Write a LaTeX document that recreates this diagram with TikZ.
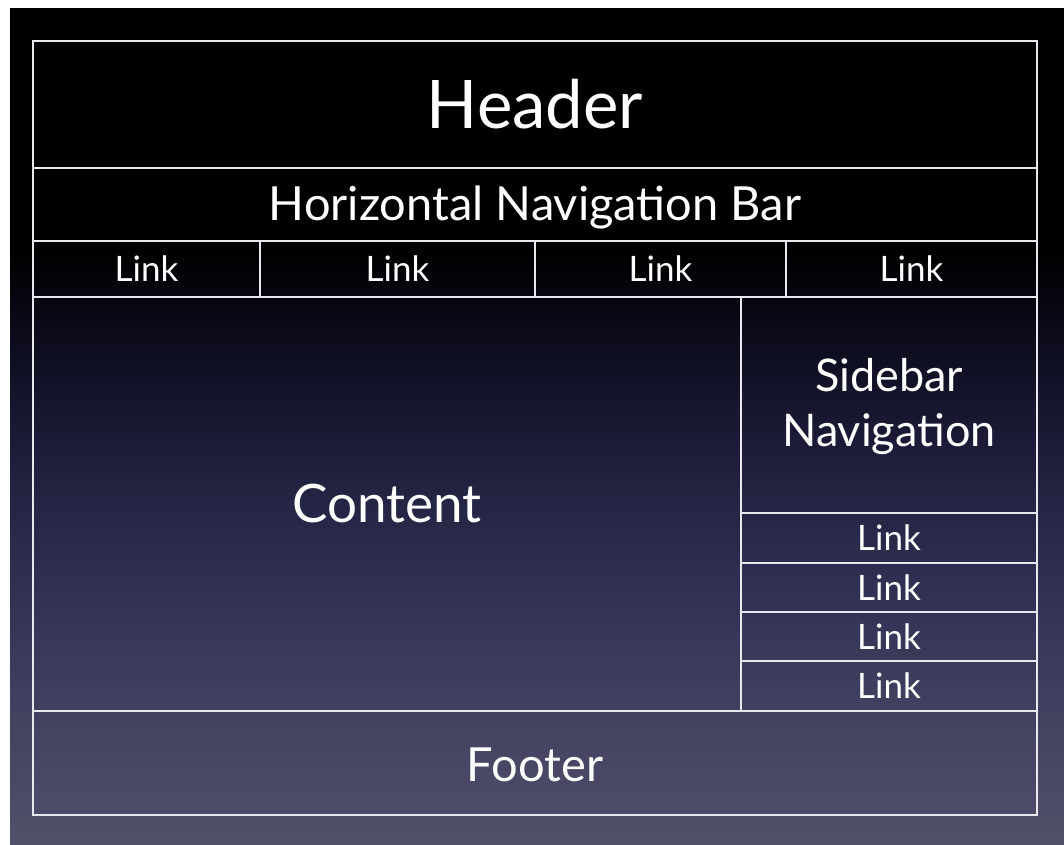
\documentclass[tikz,border=0pt]{standalone}
\usepackage{fontspec}
\setmainfont{Lato}
\usepackage{tikz}

\definecolor{slbot}{RGB}{80,80,106}
\definecolor{sllow}{RGB}{70,70,100}
\definecolor{slmid}{RGB}{50,50,85}
\definecolor{slup}{RGB}{30,30,60}
\definecolor{sltop}{RGB}{12,12,30}
\definecolor{frame}{RGB}{232,232,238}
\pgfdeclareverticalshading{slidebg}{100bp}{color(0bp)=(slbot); color(25bp)=(slbot); color(30.6bp)=(sllow); color(39.6bp)=(slmid); color(48bp)=(slup); color(55bp)=(sltop); color(60.5bp)=(black); color(100bp)=(black)}

\tikzset{
  box/.style={draw=frame, line width=2.8pt},
  big/.style={text=white, font=\fontsize{67}{67}\selectfont},
  mid/.style={text=white, font=\fontsize{47}{47}\selectfont},
  small/.style={text=white, font=\fontsize{35}{35}\selectfont},
}

\begin{document}
\begin{tikzpicture}[x=1pt, y=-1pt]
      \useasboundingbox (0,0) rectangle (1064,844);
      \fill[white] (0,0) rectangle (1064,844);
      \shade[shading=slidebg] (10,8) rectangle (1064,844);
      % top part
      \draw[box] (33,41) rectangle (1037,168) node[midway, big] (header) {Header};
      \draw[box] (33,168) rectangle (1037,241) node[midway, mid, yshift=-3] (hnav) {Horizontal Navigation Bar};
      \draw[box] (33,241) rectangle (260,297) node[midway, small] (hlinka) {Link};
      \draw[box] (260,241) rectangle (535,297) node[midway, small] (hlinkb) {Link};
      \draw[box] (535,241) rectangle (786,297) node[midway, small] (hlinkc) {Link};
      \draw[box] (786,241) rectangle (1037,297) node[midway, small] (hlinkd) {Link};
      % middle part
      \draw[box] (33,297) rectangle (741,711) node[midway, mid, font=\fontsize{53}{53}\selectfont] (content) {Content};
      \draw[box] (741,297) rectangle (1037,513) node[midway, mid, font=\fontsize{45}{45}\selectfont, align=center, yshift=-2] (snav) {Sidebar\\[10pt]Navigation};
      \draw[box] (741,513) rectangle (1037,563) node[midway, small] (slinka) {Link};
      \draw[box] (741,563) rectangle (1037,612) node[midway, small] (slinkb) {Link};
      \draw[box] (741,612) rectangle (1037,661) node[midway, small] (slinkc) {Link};
      \draw[box] (741,661) rectangle (1037,711) node[midway, small] (slinkd) {Link};
      % bottom part
      \draw[box] (33,711) rectangle (1037,815) node[midway, mid, yshift=-2] (footer) {Footer};
    \end{tikzpicture}
\end{document}
